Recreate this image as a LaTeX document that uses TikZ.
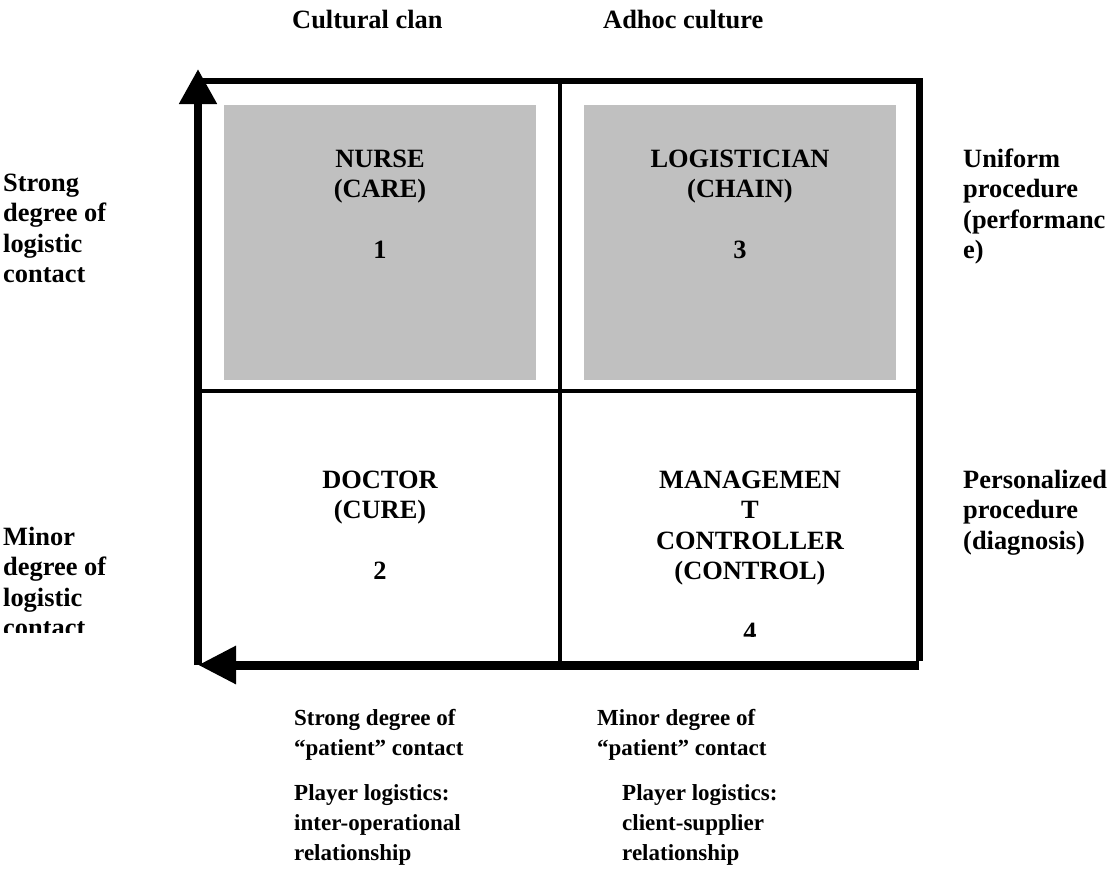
\documentclass[tikz,border=0pt]{standalone}
\usepackage{fontspec}
\setmainfont{Liberation Serif}
\usetikzlibrary{arrows.meta}
\definecolor{cellgray}{RGB}{192,192,192}
\newcommand\tl[1]{\begin{tabular}[t]{@{}l@{}}#1\end{tabular}}
\newcommand\tc[1]{\begin{tabular}[t]{@{}c@{}}#1\end{tabular}}
\begin{document}
\begin{tikzpicture}[x=1pt,y=-1pt,
  txt/.style={inner sep=0pt, anchor=base west, font=\fontsize{26.4}{30.5}\selectfont\bfseries},
  ctxt/.style={txt, anchor=base},
  small/.style={txt, font=\fontsize{23}{30}\selectfont\bfseries},
  axis/.style={line width=8pt, -{Triangle[length=35pt,width=36pt]}},
  frame/.style={line width=7pt},
  divider/.style={line width=4pt}]
\useasboundingbox (0,0) rectangle (1114,889);
% shaded quadrants
\fill[cellgray] (224,105) rectangle (536,380);
\fill[cellgray] (584,105) rectangle (896,380);
% frame and dividers
\coordinate (tl) at (198,81);
\coordinate (tr) at (919,81);
\coordinate (br) at (919,665);
\coordinate (bl) at (198,665);
\coordinate (mt) at (560,81);
\coordinate (mb) at (560,665);
\coordinate (ml) at (198,391);
\coordinate (mr) at (919,391);
\coordinate (top) at (198,69);
\draw[divider] (mt) -- (mb);
\draw[divider] (ml) -- (mr);
\draw[line width=6pt] (tl) -- ([xshift=4pt]tr);
\draw[frame] ([yshift=-3pt]tr) -- ([yshift=4pt]br);
\draw[axis] (bl) -- (top);
\draw[line width=9pt, -{Triangle[length=38pt,width=36pt]}] (br) -- (bl);
% column headings
\node[txt] (h1) at (292,28) {Cultural clan};
\node[txt] (h2) at (603,28) {Adhoc culture};
% quadrant texts
\node[ctxt] (q1) at (380,167) {\tc{NURSE\\(CARE)\\ \\1}};
\node[ctxt] (q3) at (740,167) {\tc{LOGISTICIAN\\(CHAIN)\\ \\3}};
\node[ctxt] (q2) at (380,488) {\tc{DOCTOR\\(CURE)\\ \\2}};
\begin{scope}
\clip (560,0) rectangle (1114,636);
\node[ctxt] (q4) at (750,488) {\tc{MANAGEMEN\\T\\CONTROLLER\\(CONTROL)\\ \\4}};
\end{scope}
\begin{scope}
\clip (0,0) rectangle (190,632);
\node[txt] (l2) at (3,545) {\tl{Minor\\degree of\\logistic\\contact}};
\end{scope}
% side labels
\node[txt] (l1) at (3,191) {\tl{Strong\\degree of\\logistic\\contact}};
\node[txt] (r1) at (963,167) {\tl{Uniform\\procedure\\(performanc\\e)}};
\node[txt] (r2) at (963,488) {\tl{Personalized\\procedure\\(diagnosis)}};
% bottom labels
\node[small] (b1) at (294,725) {\tl{Strong degree of\\``patient'' contact}};
\node[small] (b2) at (597,725) {\tl{Minor degree of\\``patient'' contact}};
\node[small] (b3) at (294,800) {\tl{Player logistics:\\inter-operational\\relationship}};
\node[small] (b4) at (622,800) {\tl{Player logistics:\\client-supplier\\relationship}};
\end{tikzpicture}
\end{document}
